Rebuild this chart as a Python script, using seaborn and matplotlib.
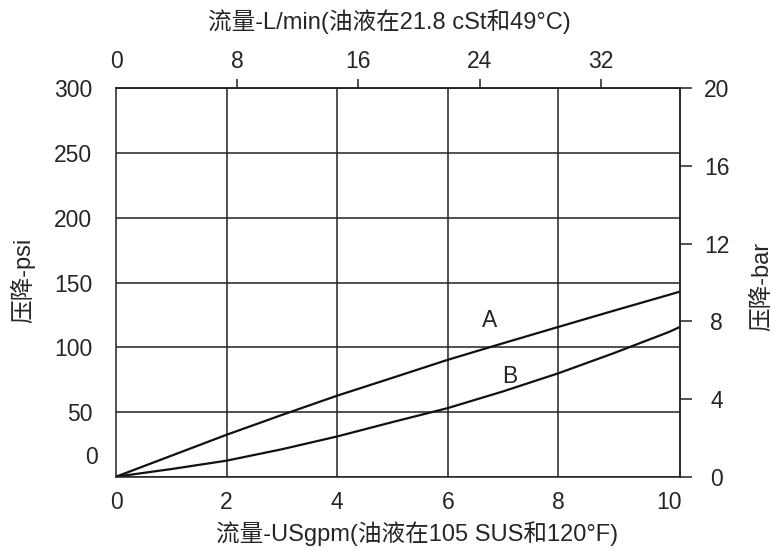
import matplotlib.pyplot as plt
import matplotlib.transforms as mtransforms
import pandas as pd
import seaborn as sns

# 曲线数据
flow_gpm = [0, 1, 2, 3, 4, 5, 6, 7, 8, 9, 10, 10.2]
psi_a = [0, 16.2, 32.4, 47.7, 62.6, 76.4, 90.3, 103.1, 115.7, 128.2, 140.5, 143]
psi_b = [0, 5.9, 12.4, 21.2, 31.1, 42.2, 53, 65.9, 79.9, 95.4, 111.8, 115.7]

gpm_ticks = [0, 2, 4, 6, 8, 10]
gpm_grid = [2, 4, 6, 8]
lpm_ticks = [0, 8, 16, 24, 32]
psi_ticks = [0, 50, 100, 150, 200, 250, 300]
bar_ticks = [0, 4, 8, 12, 16, 20]

LPM_PER_GPM = 3.65  # 图上刻度的换算
PSI_PER_BAR = 15

sns.set_style('white')
narrow = ['Liberation Sans Narrow', 'Liberation Sans', 'Noto Sans CJK SC']
regular = ['Liberation Sans', 'Noto Sans CJK SC']
plt.rcParams['font.family'] = narrow
plt.rcParams['font.size'] = 16.5

n = len(flow_gpm)
df = pd.DataFrame({'flow': flow_gpm * 2,
                   'psi': psi_a + psi_b,
                   'curve': ['A'] * n + ['B'] * n})

fig = plt.figure(figsize=(7.77, 5.52), dpi=100)
ax = fig.add_axes([0.1493, 0.1364, 0.7259, 0.7036])

sns.lineplot(data=df, x='flow', y='psi', hue='curve',
             palette=['#111111', '#111111'], linewidth=1.6,
             legend=False, ax=ax)

ax.set_xlim(0, 10.2)
ax.set_ylim(0, 300)
ax.set_xticks(gpm_ticks)
ax.set_xticks(gpm_grid, minor=True)
ax.xaxis.remove_overlapping_locs = False  # 竖直网格线用次刻度
ax.set_yticks(psi_ticks)
ax.grid(False)
ax.grid(axis='x', which='minor', color='#222222', lw=1.1)
ax.grid(axis='y', which='major', color='#222222', lw=1.1)
ax.tick_params(which='both', length=0)
ax.tick_params(axis='x', pad=10.5)
ax.tick_params(axis='y', pad=17)
for s in ax.spines.values():
    s.set_color('#222222')
    s.set_linewidth(1.1)

# 左侧 "0" 位置稍微上移
lab0 = ax.get_yticklabels()[0]
lab0.set_transform(lab0.get_transform() +
                   mtransforms.ScaledTranslation(0.05, 0.22, fig.dpi_scale_trans))

# 上方 L/min 轴
secx = ax.secondary_xaxis('top', functions=(lambda g: g * LPM_PER_GPM,
                                            lambda l: l / LPM_PER_GPM))
secx.set_xticks(lpm_ticks)
secx.tick_params(direction='out', length=6.2, width=1.1, pad=4.5, color='#222222')
secx.spines['top'].set_color('#222222')
secx.spines['top'].set_linewidth(1.1)
secx.xaxis.get_major_ticks()[0].tick2line.set_visible(False)

# 右侧 bar 轴
secy = ax.secondary_yaxis('right', functions=(lambda p: p / PSI_PER_BAR,
                                              lambda b: b * PSI_PER_BAR))
secy.set_yticks(bar_ticks)
secy.tick_params(direction='out', length=8.5, width=1.1, pad=18, color='#222222')
secy.spines['right'].set_color('#222222')
secy.spines['right'].set_linewidth(1.1)
for lab in secy.get_yticklabels():
    lab.set_ha('center')

# 轴标题
ax.set_xlabel('流量-USgpm(油液在105 SUS和120°F)', fontsize=17, family=regular)
ax.xaxis.set_label_coords(0.534, -0.1475, transform=ax.transAxes)
ax.xaxis.label.set_va('center')

ax.set_ylabel('压降-psi', fontsize=17, family=regular)
ax.yaxis.set_label_coords(-0.165, 0.506, transform=ax.transAxes)
ax.yaxis.label.set_va('center')

secx.set_xlabel('流量-L/min(油液在21.8 cSt和49°C)', fontsize=17, family=regular)
secx.xaxis.set_label_coords(0.485, 1.1707, transform=ax.transAxes)
secx.xaxis.label.set_va('center')

secy.set_ylabel('压降-bar', fontsize=17, family=regular)
secy.yaxis.set_label_coords(1.145, 0.49, transform=ax.transAxes)
secy.yaxis.label.set_va('center')

# 曲线标记
ax.text(6.76, 121, 'A', fontsize=16.5, family=regular, ha='center', va='center')
ax.text(7.12, 77.5, 'B', fontsize=16.5, family=regular, ha='center', va='center')

plt.savefig('out.png', dpi=100)
